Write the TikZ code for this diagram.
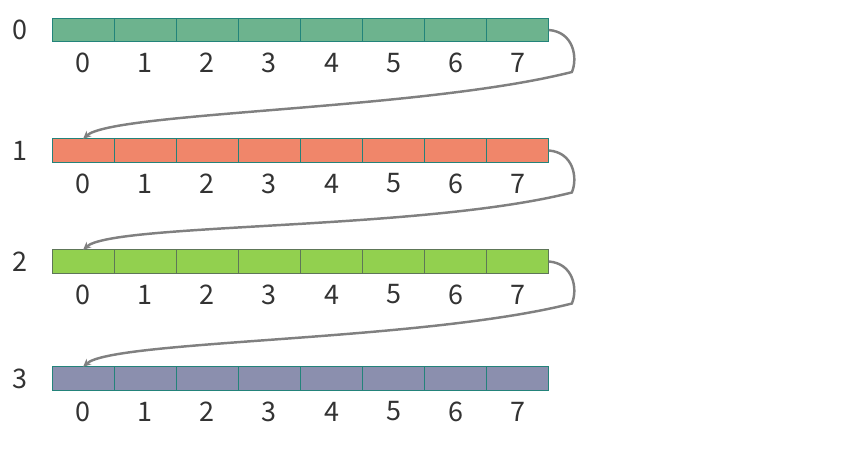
\documentclass[tikz,border=0pt]{standalone}
\usepackage{fontspec}
\setmainfont{Noto Sans CJK SC}
\usepackage{tikz}
\usetikzlibrary{arrows.meta,positioning,calc}
\definecolor{rowteal}{HTML}{6DB38E}
\definecolor{rowcoral}{HTML}{F0866A}
\definecolor{rowlime}{HTML}{92D04F}
\definecolor{rowslate}{HTML}{8B8FAE}
\definecolor{edgeteal}{HTML}{23837A}
\definecolor{edgeolive}{HTML}{5E7658}
\definecolor{numgray}{HTML}{333333}
\definecolor{linkgray}{HTML}{808080}

\begin{document}
\begin{tikzpicture}[x=0.03cm,y=-0.03cm,>={Stealth[length=2.4mm,width=2.2mm]},
  cellbox/.style={draw,line width=0.8pt,minimum width=1.863cm,minimum height=0.7cm,inner sep=0pt,outer sep=0pt},
  idx/.style={font=\fontsize{23}{26}\selectfont,text=numgray,inner sep=1pt},
  link/.style={->,draw=linkgray,line width=2.1pt}]
  \useasboundingbox (0,0) rectangle (843,452);
  % four rows of eight cells
  \foreach \r/\yy/\fc/\dc in {0/30/rowteal/edgeteal,1/150.5/rowcoral/edgeteal,2/261.5/rowlime/edgeolive,3/378.5/rowslate/edgeteal}{
    \node[idx] (lab\r) at (20,\yy) {\r};
    \foreach \i in {0,...,7}{
      \pgfmathsetmacro{\xx}{83.1+\i*62.1}
      \node[cellbox,fill=\fc,draw=\dc] (c\r-\i) at (\xx,\yy) {};
      \node[idx] (n\r-\i) at (\xx,\yy+33) {\i};}}
  % wrap-around links from the end of one row to the start of the next
  \foreach \r/\s in {0/1,1/2,2/3}{
    \coordinate (turn\r) at ($(c\r-7.east)+(23,42)$);
    \draw[link] (c\r-7.east) .. controls +(25,2) and +(6,-14) .. (turn\r)
      .. controls +(-150,38) and +(30,-27) .. (c\s-0.north);}
\end{tikzpicture}
\end{document}
